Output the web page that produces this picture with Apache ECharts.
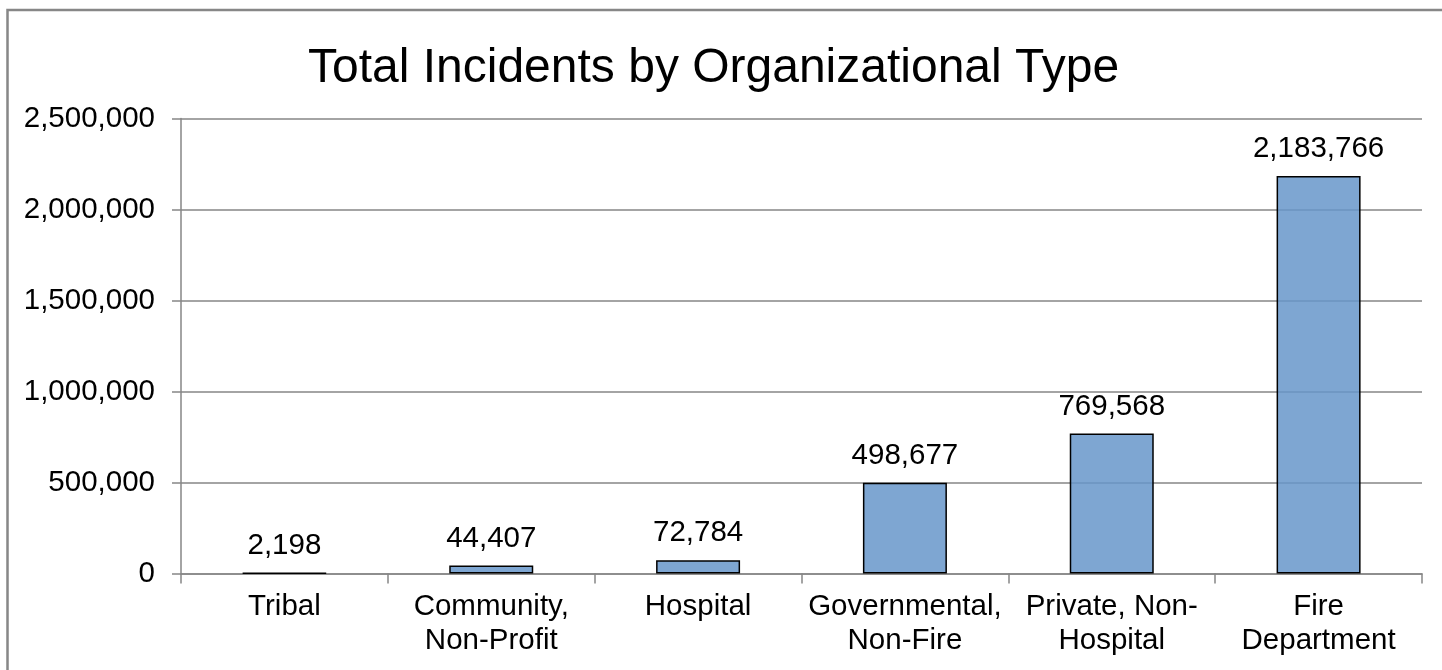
<!DOCTYPE html>
<html>
<head>
<meta charset="utf-8">
<script src="https://cdn.jsdelivr.net/npm/echarts@6/dist/echarts.min.js"></script>
<style>html,body{margin:0;padding:0;background:#fff;}#c{width:1442px;height:670px;}</style>
</head>
<body>
<div id="c"></div>
<script>
const titleText = 'Total Incidents by Organizational Type';
const categories = ['Tribal', 'Community,\nNon-Profit', 'Hospital', 'Governmental,\nNon-Fire', 'Private, Non-\nHospital', 'Fire\nDepartment'];
const incidents = [2198, 44407, 72784, 498677, 769568, 2183766];
const yTicks = [0, 500000, 1000000, 1500000, 2000000, 2500000];

const fmt = v => v.toLocaleString('en-US');
const FF = '"Liberation Sans", Arial, sans-serif';
const chart = echarts.init(document.getElementById('c'), null, {renderer: 'canvas'});
chart.setOption({
  animation: false,
  backgroundColor: '#fff',
  textStyle: {fontFamily: FF},
  graphic: [{
    type: 'rect', z: 100, silent: true,
    shape: {x: 7.5, y: 10, width: 1500, height: 700},
    style: {fill: 'none', stroke: '#878787', lineWidth: 2.5}
  }],
  title: {
    text: titleText, left: 308, top: 45, padding: 0,
    textStyle: {fontSize: 48, fontWeight: 'normal', color: '#000', fontFamily: FF}
  },
  grid: {left: 181, right: 20, top: 118.5, bottom: 96.5, containLabel: false},
  xAxis: {
    type: 'category', data: categories,
    axisLine: {lineStyle: {color: '#868686', width: 1.5}},
    axisTick: {show: true, length: 10, alignWithLabel: false, lineStyle: {color: '#868686', width: 1.5}},
    axisLabel: {color: '#000', fontSize: 29.5, lineHeight: 34, margin: 16, interval: 0, fontFamily: FF}
  },
  yAxis: {
    type: 'value', min: 0, max: yTicks[yTicks.length - 1], interval: yTicks[1] - yTicks[0],
    axisLine: {show: true, lineStyle: {color: '#868686', width: 1.5}},
    axisTick: {show: true, length: 9, lineStyle: {color: '#868686', width: 1.5}},
    splitLine: {show: true, lineStyle: {color: '#868686', width: 1.5}},
    axisLabel: {color: '#000', fontSize: 29.5, margin: 26, formatter: v => fmt(v), fontFamily: FF}
  },
  series: [{
    type: 'bar', data: incidents, barWidth: 84,
    itemStyle: {color: 'rgba(103,150,202,0.85)', borderColor: '#000', borderWidth: 1.5},
    label: {show: true, position: 'top', distance: 12, color: '#000', fontSize: 29.5,
      formatter: p => fmt(p.value), fontFamily: FF}
  }]
});
</script>
</body>
</html>
